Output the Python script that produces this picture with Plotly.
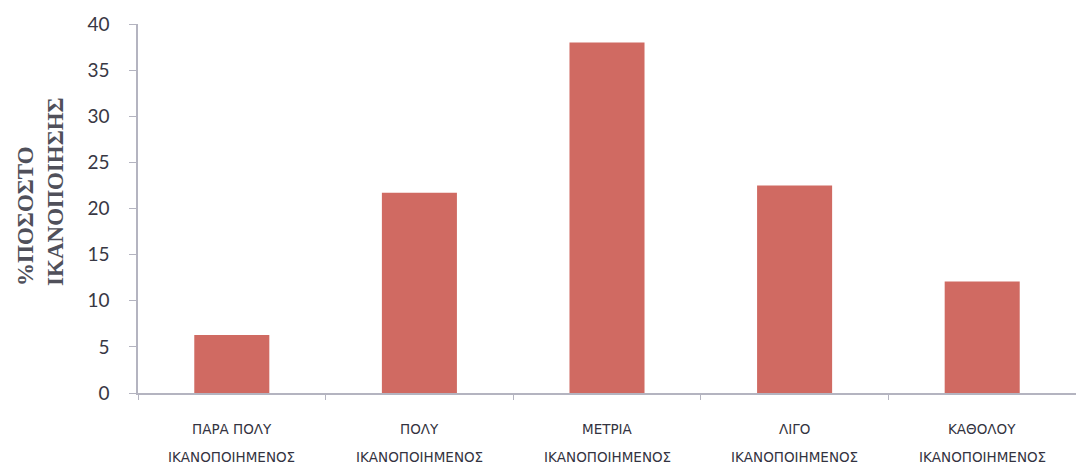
import plotly.graph_objects as go

# Satisfaction categories (two-line labels) and percentages
categories = ["ΠΑΡΑ ΠΟΛΥ", "ΠΟΛΥ", "ΜΕΤΡΙΑ", "ΛΙΓΟ", "ΚΑΘΟΛΟΥ"]
label_second_line = ["ΙΚΑΝΟΠΟΙΗΜΕΝΟΣ"] * 5
percentages = [6.3, 21.7, 38.0, 22.5, 12.1]
y_ticks = [0, 5, 10, 15, 20, 25, 30, 35, 40]

BAR_COLOR = "#D06A62"
AXIS_COLOR = "#B4B4C0"
TEXT_COLOR = "#383844"
LABEL_FONT = dict(family="DejaVu Sans", size=13.5, color="#333340")

fig = go.Figure(
    go.Bar(
        x=categories,
        y=percentages,
        marker=dict(color=BAR_COLOR, line=dict(width=0)),
        hoverinfo="skip",
    )
)

# Category labels below the axis, first and second line
annotations = []
for cat, second in zip(categories, label_second_line):
    annotations.append(dict(
        x=cat, xref="x", y=0, yref="paper", yanchor="middle", xanchor="center",
        yshift=-36, text=cat, showarrow=False, font=LABEL_FONT,
    ))
    annotations.append(dict(
        x=cat, xref="x", y=0, yref="paper", yanchor="middle", xanchor="center",
        yshift=-64, text=second, showarrow=False, font=LABEL_FONT,
    ))

# Rotated two-line y-axis title
annotations.append(dict(
    x=-0.1034, xref="paper", y=0.545, yref="paper",
    xanchor="center", yanchor="middle",
    text="%ΠΟΣΟΣΤΟ<br>ΙΚΑΝΟΠΟΙΗΣΗΣ", textangle=-90, align="left",
    showarrow=False,
    font=dict(family="Liberation Serif", size=23, color="#50505A", weight="bold"),
))

fig.update_layout(
    width=1076,
    height=473,
    margin=dict(l=138, r=0, t=24, b=80),
    paper_bgcolor="white",
    plot_bgcolor="white",
    showlegend=False,
    bargap=0.6,
    annotations=annotations,
    xaxis=dict(
        showticklabels=False,
        showline=True, linecolor=AXIS_COLOR, linewidth=1.5,
        ticks="outside", tickson="boundaries", ticklen=5, tickcolor=AXIS_COLOR,
        showgrid=False, zeroline=False,
    ),
    yaxis=dict(
        range=[0, 40],
        tickvals=y_ticks,
        ticktext=[str(v) for v in y_ticks],
        showline=True, linecolor=AXIS_COLOR, linewidth=1.5,
        ticks="outside", ticklen=7, tickcolor=AXIS_COLOR,
        ticklabelstandoff=16,
        tickfont=dict(family="Lato", size=19, color=TEXT_COLOR),
        showgrid=False, zeroline=False,
    ),
)

fig.write_html("out.html")
